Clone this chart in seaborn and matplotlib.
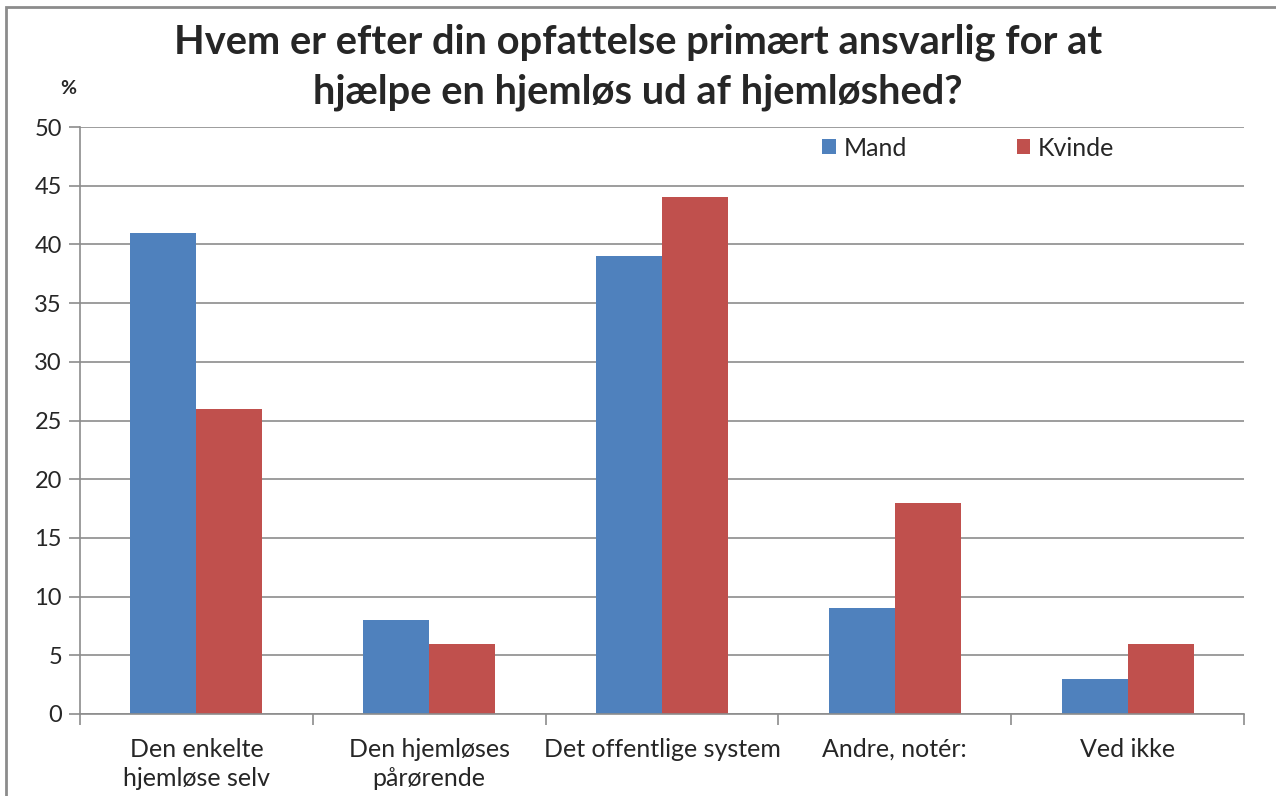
import matplotlib.pyplot as plt
import matplotlib.patches as mpatches
import pandas as pd
import seaborn as sns

# data
categories = [
    "Den enkelte\nhjemløse selv",
    "Den hjemløses\npårørende",
    "Det offentlige system",
    "Andre, notér:",
    "Ved ikke",
]
mand = [41, 8, 39, 9, 3]
kvinde = [26, 6, 44, 18, 6]
series = ["Mand", "Kvinde"]
colors = ["#4F81BD", "#C0504D"]
yticks = list(range(0, 51, 5))

df = pd.DataFrame({
    "kategori": categories * 2,
    "procent": mand + kvinde,
    "køn": ["Mand"] * len(categories) + ["Kvinde"] * len(categories),
})

sns.set_style("white")
plt.rcParams["font.family"] = ["Lato", "DejaVu Sans"]

fig = plt.figure(figsize=(12.76, 7.96), dpi=100)
ax = fig.add_axes([80 / 1276, 1 - 714 / 796, (1244 - 80) / 1276, (714 - 127) / 796])

sns.barplot(
    data=df, x="kategori", y="procent", hue="køn",
    hue_order=series, palette=colors, width=0.567,
    saturation=1, ax=ax, legend=True,
)
for p in ax.patches:
    p.set_edgecolor("none")

ax.set_ylim(0, 50)
ax.set_xlim(-0.5, len(categories) - 0.5)
ax.set_yticks(yticks)
ax.yaxis.grid(True, color="#8c8c8c", linewidth=1.2)
ax.set_axisbelow(True)
ax.set_xlabel("")
ax.set_ylabel("")

for side in ["top", "right"]:
    ax.spines[side].set_visible(False)
for side in ["left", "bottom"]:
    ax.spines[side].set_color("#8c8c8c")
    ax.spines[side].set_linewidth(1.2)

ax.tick_params(axis="y", which="major", direction="out", length=8, width=1.2,
               color="#8c8c8c", labelsize=17, pad=5, left=True)
ax.tick_params(axis="x", which="major", length=0, labelsize=18, pad=17)
ax.set_xticks(range(len(categories)), categories, linespacing=1.35)
ax.set_xticks([i - 0.5 for i in range(len(categories) + 1)], minor=True)
ax.tick_params(axis="x", which="minor", direction="out", length=8, width=1.2,
               color="#8c8c8c", bottom=True)

leg = ax.legend(loc="center left", bbox_to_anchor=(0.6375, 0.964), ncol=2,
                frameon=False, fontsize=18, borderaxespad=0, borderpad=0,
                handlelength=0.55, handleheight=0.55,
                handletextpad=0.3, columnspacing=4.4)

fig.text(0.5, 1 - 42 / 796, "Hvem er efter din opfattelse primært ansvarlig for at",
         ha="center", va="center", fontsize=28.7, fontweight="bold")
fig.text(0.5, 1 - 92 / 796, "hjælpe en hjemløs ud af hjemløshed?",
         ha="center", va="center", fontsize=28.7, fontweight="bold")
fig.text(68 / 1276, 1 - 88 / 796, "%", ha="center", va="center",
         fontsize=14, fontweight="bold")

# outer chart border
fig.patches.append(mpatches.Rectangle(
    (6 / 1276, -0.05), 1.2, 1 - 7 / 796 + 0.05, transform=fig.transFigure,
    fill=False, edgecolor="#8c8c8c", linewidth=2))

fig.savefig("out.png", dpi=100)
